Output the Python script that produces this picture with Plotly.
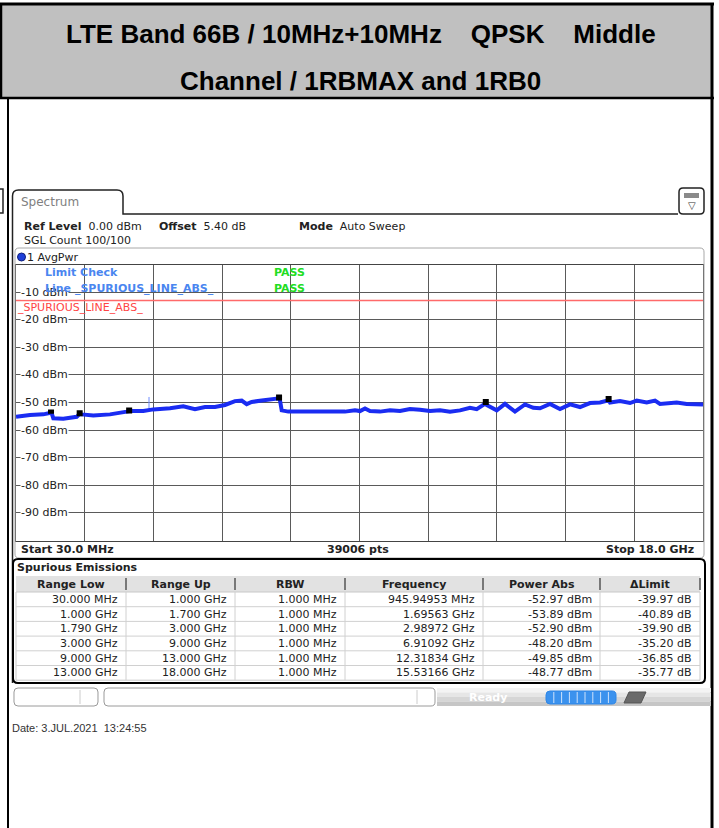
import plotly.graph_objects as go

# ---------------- data ----------------
freq_ghz = [0.030, 0.396, 0.744, 0.919, 0.946, 1.006, 1.267, 1.618, 1.696, 1.749,
            2.052, 2.489, 2.926, 2.990, 3.360, 3.621, 4.058, 4.406, 4.712, 4.974,
            5.235, 5.497, 5.758, 5.934, 6.064, 6.195, 6.457, 6.718, 6.911, 6.936,
            6.980, 7.153, 7.503, 7.938, 8.374, 8.636, 8.897, 9.028, 9.159, 9.290,
            9.551, 9.813, 10.074, 10.336, 10.597, 10.859, 11.121, 11.382, 11.644, 11.905,
            12.081, 12.318, 12.342, 12.604, 12.821, 13.082, 13.344, 13.561, 13.737, 13.998,
            14.259, 14.521, 14.783, 15.044, 15.306, 15.532, 15.568, 15.829, 16.091, 16.266,
            16.528, 16.745, 16.875, 17.137, 17.312, 17.574, 17.835, 18.000]
level_dbm = [-55.2, -54.5, -54.3, -53.8, -53.2, -55.7, -55.9, -55.2, -54.1, -54.3,
             -54.75, -54.3, -53.3, -53.1, -53.1, -52.5, -52.1, -51.4, -52.4, -51.65,
             -51.65, -50.9, -49.5, -49.3, -50.6, -49.8, -49.3, -49.0, -48.5, -49.3,
             -52.85, -53.3, -53.3, -53.1, -53.1, -53.3, -52.85, -53.1, -52.2, -53.1,
             -53.3, -52.85, -53.1, -52.4, -52.6, -53.1, -52.85, -53.3, -52.85, -51.9,
             -52.4, -50.3, -50.9, -52.85, -50.5, -53.3, -50.7, -51.9, -52.1, -50.5,
             -52.4, -50.7, -51.65, -50.2, -50.0, -49.2, -50.0, -49.5, -50.2, -49.3,
             -50.0, -49.3, -50.5, -50.2, -50.0, -50.5, -50.5, -50.7]

spike_freq = [3.509, 3.509]
spike_dbm = [-52.9, -48.0]

limit_dbm = -13.0
start_ghz, stop_ghz = 0.030, 18.0
ref_level = 0.0
y_bottom = -100.0
y_tick_vals = [-10, -20, -30, -40, -50, -60, -70, -80, -90]
y_tick_text = ["-10 dBm", "-20 dBm", "-30 dBm", "-40 dBm", "-50 dBm",
               "-60 dBm", "-70 dBm", "-80 dBm", "-90 dBm"]

range_low = ["30.000 MHz", "1.000 GHz", "1.790 GHz", "3.000 GHz", "9.000 GHz", "13.000 GHz"]
range_up = ["1.000 GHz", "1.700 GHz", "3.000 GHz", "9.000 GHz", "13.000 GHz", "18.000 GHz"]
rbw = ["1.000 MHz", "1.000 MHz", "1.000 MHz", "1.000 MHz", "1.000 MHz", "1.000 MHz"]
peak_freq_ghz = [0.94594953, 1.69563, 2.98972, 6.91092, 12.31834, 15.53166]
peak_freq_text = ["945.94953 MHz", "1.69563 GHz", "2.98972 GHz", "6.91092 GHz",
                  "12.31834 GHz", "15.53166 GHz"]
peak_power_dbm = [-52.97, -53.89, -52.90, -48.20, -49.85, -48.77]
col_headers = ["Range Low", "Range Up", "RBW", "Frequency", "Power Abs", "\u0394Limit"]

power_text = [f"{p:.2f} dBm" for p in peak_power_dbm]
delta_text = [f"{p - limit_dbm:.2f} dB" for p in peak_power_dbm]

# ---------------- layout helpers (pixel -> paper) ----------------
W, H = 719, 828
def X(x): return x / W
def Y(y): return 1 - y / H

shapes, ann = [], []
FONT = "DejaVu Sans"

def rect(x0, y0, x1, y1, fill=None, line=None, lw=1):
    shapes.append(dict(type="rect", xref="paper", yref="paper",
                       x0=X(x0), x1=X(x1), y0=Y(y1), y1=Y(y0),
                       fillcolor=fill if fill else "rgba(0,0,0,0)",
                       line=dict(color=line if line else "rgba(0,0,0,0)", width=lw if line else 0),
                       layer="above"))

def hline(x0, x1, y, color, lw=1):
    shapes.append(dict(type="line", xref="paper", yref="paper",
                       x0=X(x0), x1=X(x1), y0=Y(y), y1=Y(y),
                       line=dict(color=color, width=lw), layer="above"))

def vline(x, y0, y1, color, lw=1):
    shapes.append(dict(type="line", xref="paper", yref="paper",
                       x0=X(x), x1=X(x), y0=Y(y0), y1=Y(y1),
                       line=dict(color=color, width=lw), layer="above"))

def path(pts_cmds, color, lw=1, fill=None):
    s = ""
    for c in pts_cmds:
        op = c[0]
        coords = c[1:]
        s += op + " " + " ".join(f"{X(coords[i]):.5f},{Y(coords[i+1]):.5f}" for i in range(0, len(coords), 2)) + " "
    if fill:
        s += "Z"
    shapes.append(dict(type="path", xref="paper", yref="paper", path=s.strip(),
                       line=dict(color=color, width=lw),
                       fillcolor=fill if fill else "rgba(0,0,0,0)", layer="above"))

def rrect(x0, y0, x1, y1, r, color, lw=1, fill=None):
    path([("M", x0 + r, y0), ("L", x1 - r, y0), ("Q", x1, y0, x1, y0 + r),
          ("L", x1, y1 - r), ("Q", x1, y1, x1 - r, y1), ("L", x0 + r, y1),
          ("Q", x0, y1, x0, y1 - r), ("L", x0, y0 + r), ("Q", x0, y0, x0 + r, y0)],
         color, lw, fill if fill else None)

def text(x, y, s, size=11, color="#222222", anchor="left", family=FONT, bg=None):
    a = dict(xref="paper", yref="paper", x=X(x), y=Y(y), text=s, showarrow=False,
             xanchor=anchor, yanchor="middle", borderpad=0,
             font=dict(family=family, size=size, color=color))
    if bg:
        a["bgcolor"] = bg
    ann.append(a)

# ---------------- page frame / title ----------------
rect(1, 4, 712, 98, fill="#c0c0c0")
hline(0, 714, 4, "#000000", 3)
hline(0, 714, 98, "#000000", 2.5)
vline(1, 3, 98, "#000000", 2.5)
vline(8, 98, 828, "#000000", 2)
vline(712, 3, 828, "#000000", 3)
TF = "Liberation Sans, Arial"
text(361, 34, "<b>LTE Band 66B / 10MHz+10MHz\u00a0\u00a0\u00a0\u00a0QPSK\u00a0\u00a0\u00a0\u00a0Middle</b>",
     size=26, color="#000000", anchor="center", family=TF)
text(360, 81, "<b>Channel / 1RBMAX and 1RB0</b>", size=26, color="#000000", anchor="center", family=TF)

# ---------------- instrument screen ----------------
path([("M", 0, 189), ("L", 3, 189), ("L", 3, 213), ("L", 0, 213)], "#222222", 1.5)
path([("M", 12.5, 683), ("L", 12.5, 196), ("Q", 12.5, 190, 18.5, 190), ("L", 117, 190),
      ("Q", 123, 190, 123, 196), ("L", 123, 214), ("L", 678, 214)], "#222222", 1.5)
text(20, 202, "Spectrum", size=12, color="#808080")
rrect(679, 188, 704, 214, 4, "#222222", 1.5, fill="#ffffff")
rect(684, 193, 699, 198, fill="#8a8a8a")
text(691.5, 205, "\u25bd", size=10, color="#333333", anchor="center")

text(23, 226, "<b>Ref Level</b>  0.00 dBm", size=11)
text(158, 226, "<b>Offset</b>  5.40 dB", size=11)
text(298, 226, "<b>Mode</b>  Auto Sweep", size=11)
text(23, 241, "SGL Count 100/100", size=11)

rrect(15, 248, 704, 558, 4, "#a8a8a8", 1)
shapes.append(dict(type="circle", xref="paper", yref="paper",
                   x0=X(17.5), x1=X(25.5), y0=Y(261), y1=Y(253),
                   fillcolor="#1f3fd8", line=dict(color="#10207a", width=1), layer="above"))
text(26, 257, "1 AvgPwr", size=11)

text(20, 549, "<b>Start 30.0 MHz</b>", size=11)
text(358, 549, "<b>39006 pts</b>", size=11, anchor="center")
text(695, 549, "<b>Stop 18.0 GHz</b>", size=11, anchor="right")

# ---------------- spurious emissions table ----------------
rrect(13, 559, 705, 683, 5, "#000000", 2)
text(16, 567, "<b>Spurious Emissions</b>", size=11)
col_edges = [16, 126, 235, 345, 483, 600, 700]
hdr_top, hdr_bot = 576, 592
row_h = 14.7
rect(16, hdr_top, 700, hdr_bot, fill="#e2e2e2")
rect(16, hdr_bot, 700, hdr_bot + 6 * row_h, fill="#ffffff", line="#c8c8c8", lw=1)
for i in range(1, 6):
    hline(16, 700, hdr_bot + i * row_h, "#d0d0d0", 1)
for i, e in enumerate(col_edges[1:-1]):
    vline(e, hdr_top + 2, hdr_bot - 2, "#555555", 1.5)
    vline(e, hdr_bot, hdr_bot + 6 * row_h, "#d0d0d0", 1)
vline(700, hdr_top + 2, hdr_bot - 2, "#555555", 1.5)
for i, h in enumerate(col_headers):
    cx = (col_edges[i] + col_edges[i + 1]) / 2
    text(cx, 584, f"<b>{h}</b>", size=11, anchor="center")
columns = [range_low, range_up, rbw, peak_freq_text, power_text, delta_text]
for c, vals in enumerate(columns):
    xr = col_edges[c + 1] - 7
    for r, v in enumerate(vals):
        text(xr, hdr_bot + (r + 0.5) * row_h, v, size=11, anchor="right")

# ---------------- status bar ----------------
rrect(14, 688, 98, 706, 4, "#9a9a9a", 1, fill="#ffffff")
vline(80, 690, 704, "#cccccc", 1)
rrect(104, 688, 435, 706, 4, "#9a9a9a", 1, fill="#ffffff")
vline(417, 690, 704, "#cccccc", 1)
grad = ["#f4f4f4", "#e6e6e6", "#d6d6d6", "#c6c6c6"]
for i, g in enumerate(grad):
    rect(437, 688 + i * 4.5, 711, 688 + (i + 1) * 4.5, fill=g)
text(488, 697, "<b>Ready</b>", size=11, color="#ffffff", anchor="center")
rrect(546, 691, 616, 704, 4, "#2f86e6", 1, fill="#3b92ee")
for k in range(1, 9):
    vline(546 + k * 7.8, 692, 703, "#cfe3fb", 1)
path([("M", 624, 703), ("L", 629, 692), ("L", 646, 692), ("L", 641, 703)], "#555555", 1, fill="#6a6a6a")

text(11, 728, "Date: 3.JUL.2021  13:24:55", size=11, color="#333333", family=TF)

# ---------------- y labels & limit texts inside plot ----------------
y_top_px, y_bot_px = 264.5, 540.5
def ypx(v): return y_top_px + (ref_level - v) / (ref_level - y_bottom) * (y_bot_px - y_top_px)
for v, t in zip(y_tick_vals, y_tick_text):
    text(20, ypx(v), t, size=11, color="#222222", bg="#ffffff")
text(16, ypx(limit_dbm) + 7, "_SPURIOUS_LINE_ABS_", size=11, color="#ff4444")
text(44, 272, "<b>Limit Check</b>", size=11, color="#4a86f0")
text(273, 272, "<b>PASS</b>", size=11, color="#22dd22")
text(44, 288, "<b>Line _SPURIOUS_LINE_ABS_</b>", size=11, color="#4a86f0")
text(273, 288, "<b>PASS</b>", size=11, color="#22dd22")

shapes.append(dict(type="line", xref="x", yref="y", x0=start_ghz, x1=stop_ghz,
                   y0=limit_dbm, y1=limit_dbm, line=dict(color="#ff6a6a", width=1.5), layer="above"))

# ---------------- figure ----------------
fig = go.Figure()
fig.add_trace(go.Scatter(x=spike_freq, y=spike_dbm, mode="lines",
                         line=dict(color="#6f8cff", width=1), hoverinfo="skip"))
fig.add_trace(go.Scatter(x=freq_ghz, y=level_dbm, mode="lines",
                         line=dict(color="#1a2cf2", width=4), hoverinfo="skip"))
fig.add_trace(go.Scatter(x=peak_freq_ghz, y=peak_power_dbm, mode="markers",
                         marker=dict(symbol="square", size=6, color="#000000"), hoverinfo="skip"))

grid_x = [start_ghz + i * (stop_ghz - start_ghz) / 10 for i in range(11)]
fig.update_layout(
    width=W, height=H, margin=dict(l=0, r=0, t=0, b=0),
    paper_bgcolor="#ffffff", plot_bgcolor="#ffffff", showlegend=False,
    xaxis=dict(domain=[X(16), X(703)], range=[start_ghz, stop_ghz], tickvals=grid_x,
               showticklabels=False, ticks="", showgrid=True, gridcolor="#5a5a5a", gridwidth=1,
               showline=True, mirror=True, linecolor="#444444", linewidth=1, zeroline=False),
    yaxis=dict(domain=[Y(y_bot_px), Y(y_top_px)], range=[y_bottom, ref_level], dtick=10,
               showticklabels=False, ticks="", showgrid=True, gridcolor="#5a5a5a", gridwidth=1,
               showline=True, mirror=True, linecolor="#444444", linewidth=1, zeroline=False),
    shapes=shapes, annotations=ann,
)
fig.write_html("out.html", config={"displayModeBar": False},
               post_script="document.body.style.margin='0px';document.body.style.overflow='hidden';")
